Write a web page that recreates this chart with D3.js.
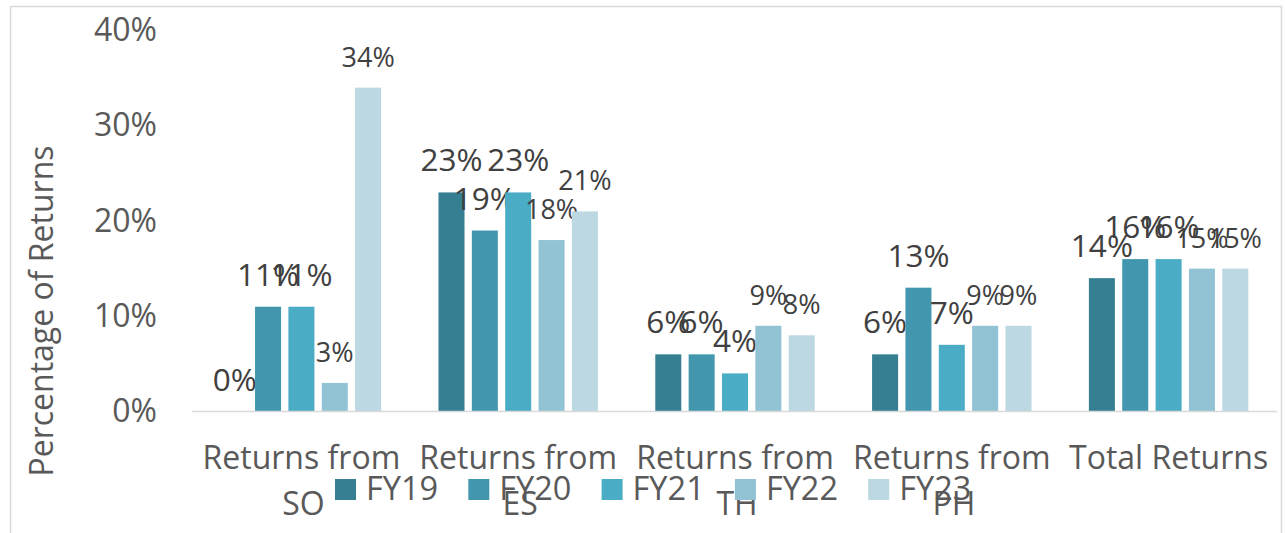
<!DOCTYPE html>
<html>
<head>
<meta charset="utf-8">
<script src="https://cdn.jsdelivr.net/npm/d3@7/dist/d3.min.js"></script>
<style>
  html, body { margin: 0; padding: 0; background: #fff; }
  svg { display: block; font-family: "Open Sans", sans-serif; }
</style>
</head>
<body>
<svg id="chart" width="1285" height="533"></svg>
<script>
// ---- data ----
const categories = ["Returns from SO", "Returns from ES", "Returns from TH", "Returns from PH", "Total Returns"];
const seriesNames = ["FY19", "FY20", "FY21", "FY22", "FY23"];
const FY19 = [0.00, 0.23, 0.06, 0.06, 0.14];
const FY20 = [0.11, 0.19, 0.06, 0.13, 0.16];
const FY21 = [0.11, 0.23, 0.04, 0.07, 0.16];
const FY22 = [0.03, 0.18, 0.09, 0.09, 0.15];
const FY23 = [0.34, 0.21, 0.08, 0.09, 0.15];
const yTicks = [0, 0.1, 0.2, 0.3, 0.4];
const yTitle = "Percentage of Returns";

const seriesValues = [FY19, FY20, FY21, FY22, FY23];
const colors = ["#367F93", "#4297AF", "#4BACC6", "#92C3D4", "#BBD8E3"];
const labelSizes = [31.5, 31.5, 31.5, 27, 27];

const svg = d3.select("#chart");

// chart border
svg.append("rect")
  .attr("x", 10.5).attr("y", 6.5)
  .attr("width", 1271).attr("height", 540)
  .attr("fill", "#fff").attr("stroke", "#d9d9d9").attr("stroke-width", 1.5);

const x0 = d3.scaleBand().domain(categories).range([193, 1277]).paddingInner(0).paddingOuter(0);
const x1 = d3.scaleBand().domain(seriesNames).range([0, x0.bandwidth()])
  .paddingInner(0.22).paddingOuter(0.86).align(0.5);
const y = d3.scaleLinear().domain([0, 0.4]).range([411.5, 30.5]);

// y tick labels (no axis line, no ticks)
const yAxis = d3.axisLeft(y).tickValues(yTicks).tickFormat(d3.format(".0%")).tickSize(0).tickPadding(0);
const gy = svg.append("g").attr("transform", "translate(157,-1.5)").call(yAxis);
gy.select(".domain").remove();
gy.selectAll("text")
  .attr("font-family", "Open Sans").attr("font-size", 32).attr("fill", "#595959")
  .attr("dy", "0.36em");

// y title
svg.append("text")
  .attr("transform", "translate(53,311) rotate(-90)")
  .attr("text-anchor", "middle")
  .attr("font-size", 32).attr("fill", "#595959")
  .text(yTitle);

// bars
const groups = svg.append("g").selectAll("g")
  .data(seriesNames)
  .join("g")
  .attr("fill", (d, i) => colors[i]);

groups.selectAll("rect")
  .data((s, si) => categories.map((c, ci) => ({ s, c, v: seriesValues[si][ci] })))
  .join("rect")
  .attr("x", d => x0(d.c) + x1(d.s))
  .attr("y", d => y(d.v))
  .attr("width", x1.bandwidth())
  .attr("height", d => y(0) - y(d.v));

// x axis baseline
const xAxis = d3.axisBottom(x0).tickSize(0).tickFormat("");
const gx = svg.append("g").attr("transform", `translate(0,${y(0)})`).call(xAxis);
gx.select(".domain").attr("stroke", "#d9d9d9").attr("stroke-width", 1.5)
  .attr("d", "M192,0H1277");

// category labels (wrapped)
const catG = svg.append("g");
categories.forEach(c => {
  const t = catG.append("text")
    .attr("x", x0(c) + x0.bandwidth() / 2)
    .attr("y", 469)
    .attr("text-anchor", "middle")
    .attr("font-size", 32).attr("fill", "#595959");
  t.text(c);
  if (t.node().getComputedTextLength() > x0.bandwidth()) {
    const idx = c.lastIndexOf(" ");
    t.text(null);
    t.append("tspan").attr("x", x0(c) + x0.bandwidth() / 2).attr("y", 469).text(c.slice(0, idx));
    t.append("tspan").attr("x", x0(c) + x0.bandwidth() / 2 + 2).attr("y", 515).text(c.slice(idx + 1));
  }
});

// data labels
groups.selectAll("text.lbl")
  .data((s, si) => categories.map((c, ci) => ({ s, si, c, v: seriesValues[si][ci] })))
  .join("text")
  .attr("class", "lbl")
  .attr("x", d => x0(d.c) + x1(d.s) + x1.bandwidth() / 2)
  .attr("y", d => y(d.v) - 21)
  .attr("text-anchor", "middle")
  .attr("font-size", d => labelSizes[d.si])
  .attr("fill", "#404040")
  .text(d => d3.format(".0%")(d.v));

// legend
const lg = svg.append("g").selectAll("g")
  .data(seriesNames)
  .join("g")
  .attr("transform", (d, i) => `translate(${335 + i * 133.3},479)`);
lg.append("rect").attr("width", 21).attr("height", 21).attr("fill", (d, i) => colors[i]);
lg.append("text").attr("x", 31).attr("y", 20.5)
  .attr("font-size", 32.5).attr("fill", "#595959").text(d => d);
</script>
</body>
</html>
